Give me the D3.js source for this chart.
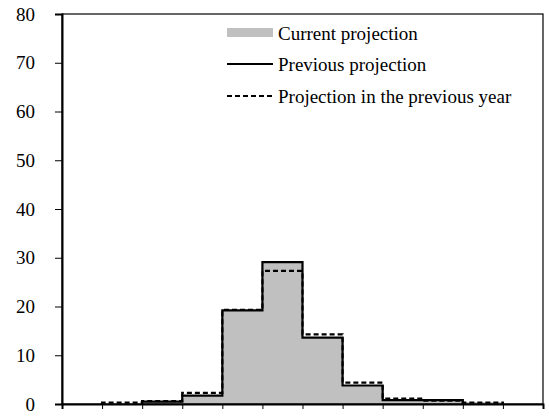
<!DOCTYPE html>
<html lang="en">
<head>
  <meta charset="UTF-8">
  <title>Projection distribution</title>
  <style>
    body { margin: 0; background: #fff; }
    text { font-family: "Liberation Serif", "Times New Roman", serif; fill: #000; }
  </style>
</head>
<body>
  <svg id="chart"></svg>

  <script src="https://d3js.org/d3.v7.min.js"></script>
  <script>
    // 12 bins along the x axis (no labels shown)
    const bins = d3.range(12);
    const current = [0, 0.1, 0.4, 1.6, 19.2, 29.0, 13.6, 3.7, 0.7, 0.7, 0.4, 0];
    const previous = [0, 0.1, 0.5, 1.7, 19.2, 29.1, 13.6, 3.8, 0.8, 0.8, 0.2, 0];
    const prevYear = [0, 0.3, 0.6, 2.3, 19.3, 27.3, 14.3, 4.4, 1.1, 0.7, 0.3, 0];
    const yTicks = [0, 10, 20, 30, 40, 50, 60, 70, 80];
    const legendLabels = ["Current projection", "Previous projection", "Projection in the previous year"];

    const width = 549, height = 416;
    const margin = { top: 14, right: 6, bottom: 12, left: 62 };

    const svg = d3.select("#chart")
      .attr("width", width)
      .attr("height", height);

    const x = d3.scaleLinear()
      .domain([0, bins.length])
      .range([margin.left, width - margin.right]);

    const y = d3.scaleLinear()
      .domain([0, 80])
      .range([height - margin.bottom, margin.top]);

    // gray bars
    svg.selectAll(".bar")
      .data(bins.filter(i => current[i] > 0))
      .enter()
      .append("rect")
      .attr("class", "bar")
      .attr("x", i => x(i))
      .attr("y", i => y(current[i]))
      .attr("width", x(1) - x(0) + 0.5)
      .attr("height", i => y(0) - y(current[i]))
      .attr("fill", "#c0c0c0")
      .attr("shape-rendering", "crispEdges");

    // step outlines
    function stepPath(vals, from, to) {
      const pts = [[x(from), y(0)]];
      for (let i = from; i <= to; i++) {
        pts.push([x(i), y(vals[i])]);
        pts.push([x(i + 1), y(vals[i])]);
      }
      pts.push([x(to + 1), y(0)]);
      return d3.line()(pts);
    }

    svg.append("path")
      .attr("d", stepPath(prevYear, 1, 10))
      .attr("fill", "none")
      .attr("stroke", "#000")
      .attr("stroke-width", 2.2)
      .attr("stroke-dasharray", "5,3");

    svg.append("path")
      .attr("d", stepPath(previous, 2, 9))
      .attr("fill", "none")
      .attr("stroke", "#000")
      .attr("stroke-width", 2.2);

    // frame
    svg.append("rect")
      .attr("x", x(0))
      .attr("y", y(80))
      .attr("width", x(12) - x(0))
      .attr("height", y(0) - y(80))
      .attr("fill", "none")
      .attr("stroke", "#000")
      .attr("stroke-width", 1.2);

    // axes
    const yAxis = svg.append("g")
      .attr("transform", `translate(${x(0)},0)`)
      .call(d3.axisLeft(y).tickValues(yTicks).tickSize(7).tickPadding(20));
    yAxis.select(".domain").attr("stroke-width", 2);
    yAxis.selectAll("text").attr("font-size", 19)
      .style("font-family", "'Liberation Serif', serif");

    const xAxis = svg.append("g")
      .attr("transform", `translate(0,${y(0)})`)
      .call(d3.axisBottom(x).ticks(12).tickSize(5).tickFormat(""));
    xAxis.select(".domain").attr("stroke-width", 2);

    // legend
    const legend = svg.append("g");
    const ly = [33, 64, 96];
    legend.append("rect")
      .attr("x", 227).attr("y", ly[0] - 5)
      .attr("width", 46).attr("height", 9)
      .attr("fill", "#c0c0c0");
    legend.append("line")
      .attr("x1", 227).attr("x2", 273)
      .attr("y1", ly[1]).attr("y2", ly[1])
      .attr("stroke", "#000").attr("stroke-width", 2.2);
    legend.append("line")
      .attr("x1", 227).attr("x2", 273)
      .attr("y1", ly[2]).attr("y2", ly[2])
      .attr("stroke", "#000").attr("stroke-width", 2.2)
      .attr("stroke-dasharray", "5,3");
    legend.selectAll(".lab")
      .data(legendLabels)
      .enter()
      .append("text")
      .attr("class", "lab")
      .attr("x", 278)
      .attr("y", (d, i) => ly[i])
      .attr("dy", "0.35em")
      .attr("font-size", 19)
      .text(d => d);
  </script>
</body>
</html>
